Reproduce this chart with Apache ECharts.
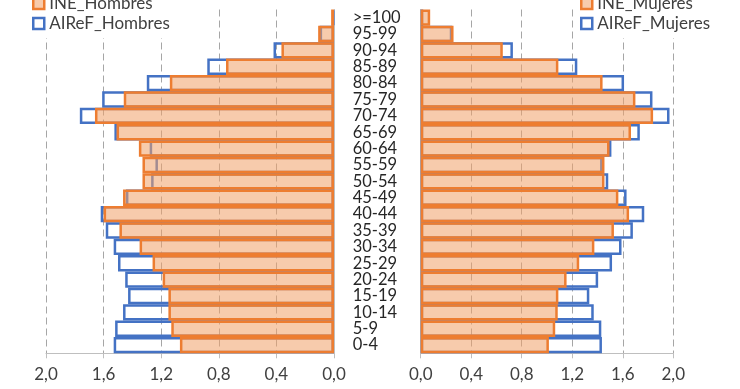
<!DOCTYPE html>
<html>
<head>
<meta charset="utf-8">
<script src="https://cdn.jsdelivr.net/npm/echarts@6/dist/echarts.min.js"></script>
<style>
html,body{margin:0;padding:0;background:#fff;}
#c{width:740px;height:389px;}
</style>
</head>
<body>
<div id="c"></div>
<script>
const categories = ['0-4','5-9','10-14','15-19','20-24','25-29','30-34','35-39','40-44','45-49','50-54','55-59','60-64','65-69','70-74','75-79','80-84','85-89','90-94','95-99','>=100'];
const ineHombres   = [1.07,1.13,1.15,1.15,1.19,1.26,1.35,1.49,1.60,1.465,1.33,1.33,1.355,1.51,1.66,1.46,1.14,0.75,0.365,0.11,0.02];
const airefHombres = [1.53,1.52,1.465,1.43,1.45,1.50,1.53,1.585,1.62,1.445,1.27,1.24,1.28,1.525,1.765,1.61,1.30,0.88,0.42,0.10,0.01];
const ineMujeres   = [1.015,1.065,1.085,1.09,1.155,1.255,1.375,1.53,1.65,1.565,1.455,1.455,1.495,1.665,1.84,1.70,1.44,1.09,0.65,0.26,0.075];
const airefMujeres = [1.435,1.43,1.37,1.335,1.405,1.515,1.59,1.68,1.77,1.63,1.485,1.44,1.51,1.735,1.97,1.835,1.61,1.24,0.73,0.25,0.02];
const axisMin = 0, axisMax = 2, axisStep = 0.4;

const FONT = 'Lato';
const ineStyle = {color:'rgba(241,160,104,0.55)', borderColor:'#ED7D31', borderWidth:2.5};
const airefStyle = {color:'rgba(255,255,255,0)', borderColor:'#4472C4', borderWidth:2.5};

function xAx(gridIndex, inverse){
  return {
    type:'value', gridIndex, inverse, min:axisMin, max:axisMax, interval:axisStep,
    axisLine:{show:true, lineStyle:{color:'#BFBFBF', width:1}},
    axisTick:{show:true, length:5, lineStyle:{color:'#BFBFBF'}},
    axisLabel:{margin:13, color:'#404040', fontFamily:FONT, fontSize:17,
      formatter:v=>v.toFixed(1).replace('.',',')},
    splitLine:{show:true, lineStyle:{color:'#A6A6A6', type:[7,4], width:1}}
  };
}
function yAx(gridIndex, showLabels){
  return {
    type:'category', gridIndex, data:categories,
    axisLine:{show:true, lineStyle:{color:'#BFBFBF'}},
    axisTick:{show:false},
    axisLabel:{show:showLabels, interval:0, hideOverlap:false, align:'left', margin:68,
      color:'#262626', fontFamily:FONT, fontSize:16.5},
    splitLine:{show:false}
  };
}
function bar(name, data, xi, style){
  return {name, type:'bar', xAxisIndex:xi, yAxisIndex:xi, data,
    barWidth:'100%', barGap:'-100%', barCategoryGap:0, itemStyle:style, silent:true, animation:false};
}
const legendText = {fontFamily:FONT, fontSize:17, color:'#404040'};
const option = {
  animation:false,
  grid:[
    {left:46, right:406, top:9.5, bottom:35.7},
    {left:420.7, right:66.7, top:9.5, bottom:35.7}
  ],
  xAxis:[xAx(0,true), xAx(1,false)],
  yAxis:[yAx(0,false), yAx(1,true)],
  legend:[
    {orient:'vertical', left:32, top:-5, itemWidth:11, itemHeight:11, itemGap:3, padding:[0,4,6,0],
     backgroundColor:'#fff', textStyle:legendText,
     data:[{name:'INE_Hombres', icon:'rect', itemStyle:ineStyle},{name:'AIReF_Hombres', icon:'rect', itemStyle:airefStyle}]},
    {orient:'vertical', left:580, top:-5, itemWidth:11, itemHeight:11, itemGap:3, padding:[0,4,6,0],
     backgroundColor:'#fff', textStyle:legendText,
     data:[{name:'INE_Mujeres', icon:'rect', itemStyle:ineStyle},{name:'AIReF_Mujeres', icon:'rect', itemStyle:airefStyle}]}
  ],
  series:[
    bar('AIReF_Hombres', airefHombres, 0, airefStyle),
    bar('INE_Hombres', ineHombres, 0, ineStyle),
    bar('AIReF_Mujeres', airefMujeres, 1, airefStyle),
    bar('INE_Mujeres', ineMujeres, 1, ineStyle)
  ]
};
const chart = echarts.init(document.getElementById('c'), null, {renderer:'canvas'});
chart.setOption(option);
</script>
</body>
</html>
